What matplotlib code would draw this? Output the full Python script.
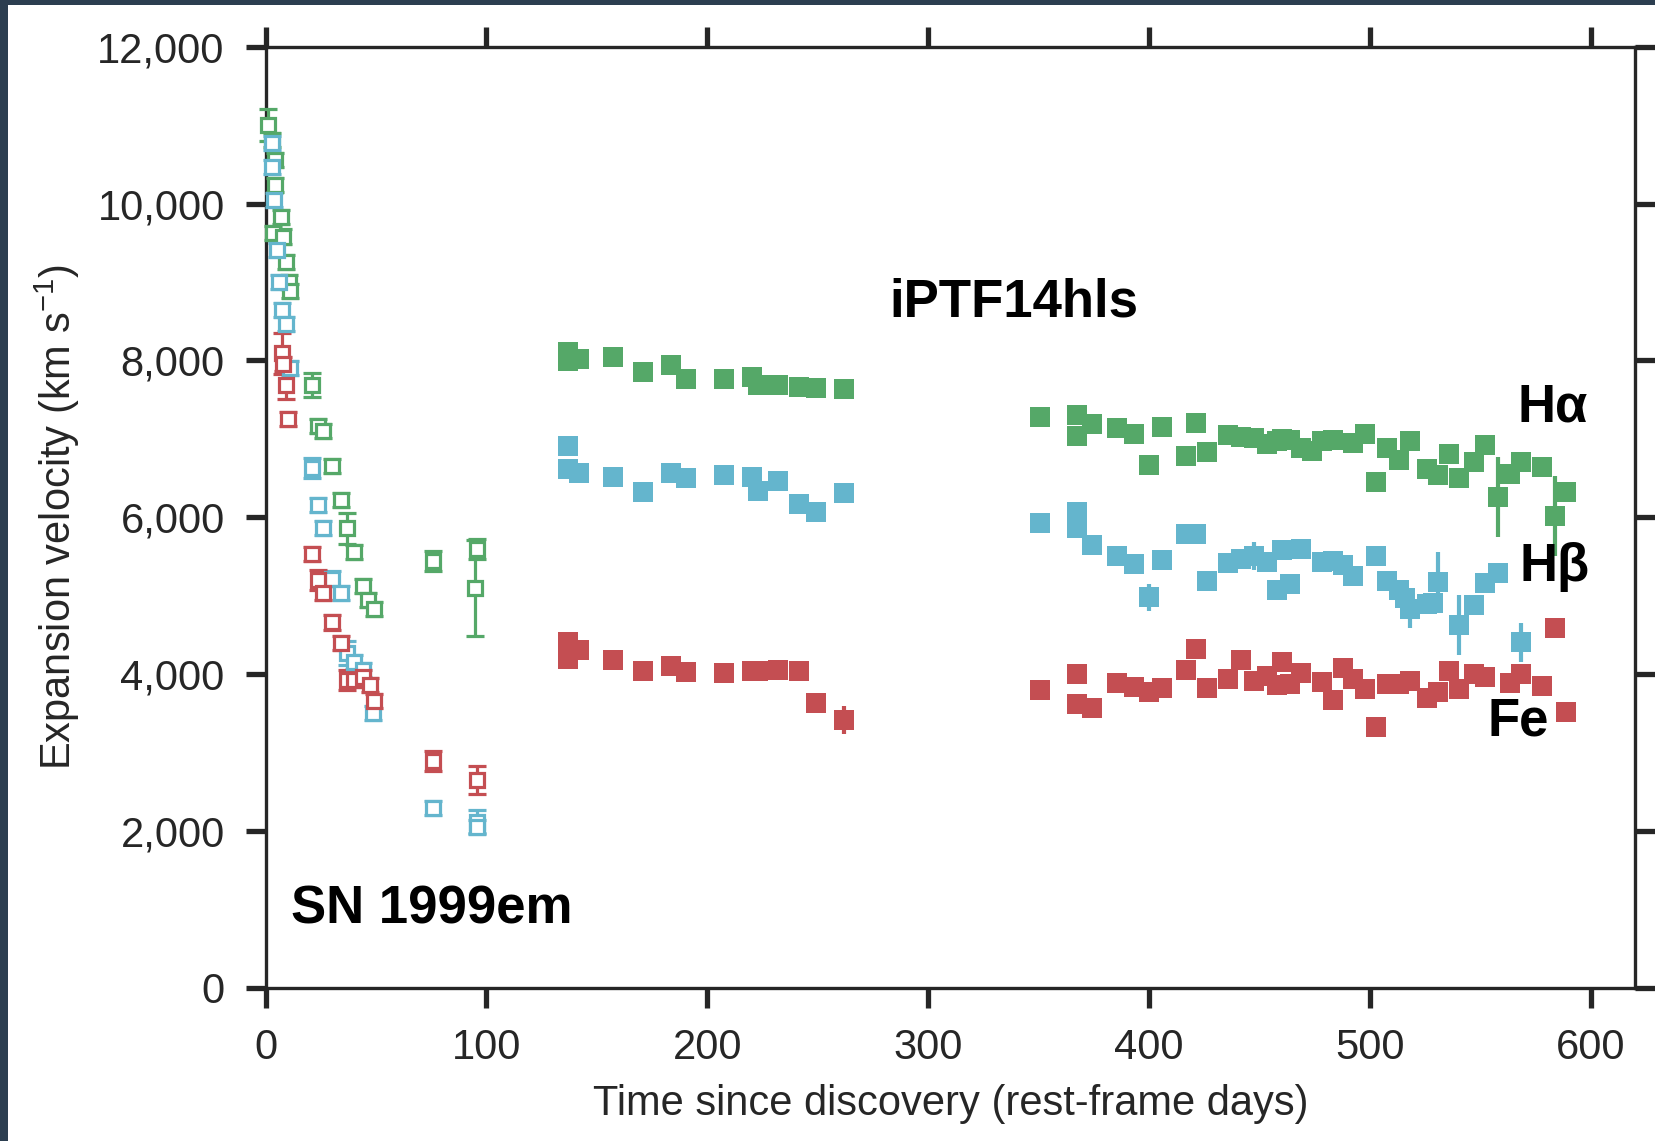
import matplotlib
matplotlib.use("Agg")
import matplotlib.pyplot as plt
import matplotlib.patches as patches
import numpy as np

plt.rcParams['font.family'] = ['Liberation Sans', 'DejaVu Sans']
plt.rcParams['mathtext.fontset'] = 'custom'
plt.rcParams['mathtext.rm'] = 'Liberation Sans'
plt.rcParams['mathtext.it'] = 'Liberation Sans:italic'

GREEN = '#55a868'
BLUE = '#64b5cd'
RED = '#c44e52'
INK = '#262626'

# SN 1999em (open squares): day, velocity, error
sn_ha_day = [1.0, 2.7, 4.3, 4.3, 3.5, 6.8, 8.0, 9.1, 10.7, 11.0, 20.8, 23.9, 26.1, 29.9,
             34.0, 37.0, 40.0, 43.9, 46.5, 49.0, 75.9, 95.8, 95.0]
sn_ha_v = [11000, 10810, 10560, 10240, 9620, 9830, 9580, 9260, 9000, 8880, 7690, 7160, 7100, 6650,
           6220, 5860, 5560, 5120, 4950, 4830, 5440, 5600, 5100]
sn_ha_err = [200, 90, 90, 90, 90, 90, 90, 90, 90, 90, 150, 90, 90, 90,
             90, 200, 90, 90, 90, 90, 130, 130, 610]

sn_hb_day = [2.7, 2.7, 4.0, 5.0, 6.1, 7.3, 9.1, 11.0, 20.8, 23.9, 25.8, 29.9, 34.0, 36.7,
             40.0, 44.2, 48.7, 75.9, 95.5, 95.5]
sn_hb_v = [10770, 10470, 10050, 9410, 9000, 8640, 8470, 7900, 6630, 6160, 5860, 5220, 5040, 4270,
           4160, 4050, 3500, 2300, 2120, 2050]
sn_hb_err = [90, 90, 90, 90, 90, 90, 90, 90, 130, 90, 90, 90, 90, 150,
             90, 90, 90, 90, 150, 90]

sn_fe_day = [7.3, 8.0, 9.1, 10.3, 20.8, 23.9, 25.8, 29.9, 34.0, 37.0, 40.0, 43.9, 47.2, 49.0,
             75.9, 95.8]
sn_fe_v = [8090, 7950, 7690, 7250, 5530, 5200, 5040, 4660, 4400, 3930, 3930, 3970, 3860, 3660,
           2890, 2650]
sn_fe_err = [260, 90, 180, 90, 90, 130, 90, 90, 90, 130, 90, 90, 90, 90,
             130, 180]

# iPTF14hls (filled squares)
ip_ha_day = [137, 137, 142, 157.3, 170.9, 183.6, 190.4, 207.6, 220.2, 222.9, 232, 241.5, 249.2, 261.9,
             350.5, 367.3, 367.3, 374.1, 385.4, 393.1, 399.9, 405.7, 416.6, 421.1, 426.1, 435.6,
             441.5, 447.4, 453.3, 457.8, 460.1, 463.7, 468.7, 473.7, 478.2, 483.1, 492.2, 497.6,
             502.6, 507.6, 513, 518, 525.7, 530.7, 535.6, 540.2, 546.9, 551.9, 557.8, 563.2,
             568.2, 577.7, 583.6, 588.6]
ip_ha_v = [8110, 7990, 8015, 8040, 7850, 7940, 7760, 7760, 7785, 7683, 7683, 7658, 7645, 7632,
           7275, 7301, 7033, 7186, 7135, 7059, 6663, 7148, 6778, 7199, 6829, 7046,
           7020, 7008, 6931, 6969, 6995, 6982, 6880, 6842, 6969, 6982, 6944, 7062,
           6447, 6880, 6727, 6969, 6613, 6536, 6804, 6498, 6702, 6918, 6255, 6549,
           6702, 6638, 6013, 6319]
ip_ha_err = [0] * 48 + [510, 0, 0, 0, 510, 0]

ip_hb_day = [137, 137, 142, 157.3, 170.9, 183.6, 190.4, 207.6, 220.2, 222.9, 232, 241.5, 249.2, 261.9,
             350.5, 367.3, 367.3, 374.1, 385.4, 393.1, 399.9, 405.7, 416.6, 421.1, 426.1, 435.6,
             441.5, 447.4, 453.3, 457.8, 460.1, 463.7, 468.7, 478.2, 483.1, 487.9, 492.4, 502.6,
             507.6, 513, 515.7, 518, 525.7, 528.4, 530.7, 540.2, 546.9, 551.9, 557.8, 568.2]
ip_hb_v = [6906, 6613, 6562, 6511, 6319, 6562, 6498, 6536, 6511, 6332, 6460, 6166, 6065, 6307,
           5924, 6072, 5861, 5644, 5504, 5402, 4981, 5453, 5784, 5784, 5193, 5414,
           5465, 5504, 5427, 5070, 5580, 5147, 5593, 5427, 5440, 5393, 5252, 5507,
           5189, 5074, 4968, 4828, 4892, 4905, 5176, 4624, 4883, 5159, 5287, 4407]
ip_hb_err = [0] * 20 + [175, 0, 0, 0, 0, 0,
                        0, 180, 0, 100, 0, 0, 0, 0, 0, 0, 0, 0,
                        100, 100, 0, 240, 0, 0, 380, 380, 0, 0, 0, 250]

ip_fe_day = [137, 137, 142, 157.3, 170.9, 183.6, 190.4, 207.6, 220.2, 222.9, 232, 241.5, 249.2, 261.9,
             350.5, 367.3, 367.3, 374.1, 385.4, 393.1, 399.9, 405.7, 416.6, 421.1, 426.1, 435.6,
             441.5, 447.4, 453.3, 457.8, 460.1, 463.7, 468.7, 478.2, 483.1, 487.9, 492.4, 497.6,
             502.6, 507.6, 513, 518, 525.7, 530.7, 535.6, 540.2, 546.9, 551.9, 563.2, 568.2,
             577.7, 583.6, 588.6]
ip_fe_v = [4407, 4190, 4305, 4178, 4037, 4101, 4025, 4012, 4037, 4037, 4050, 4037, 3629, 3413,
           3795, 3999, 3617, 3566, 3884, 3834, 3770, 3821, 4050, 4318, 3821, 3935,
           4178, 3910, 3974, 3859, 4152, 3872, 4012, 3897, 3668, 4076, 3935, 3808,
           3323, 3872, 3872, 3910, 3693, 3770, 4037, 3808, 3999, 3961, 3884, 3999,
           3846, 4586, 3515]
ip_fe_err = [0] * 13 + [180] + [0] * 39

x_ticks = [0, 100, 200, 300, 400, 500, 600]
y_ticks = [0, 2000, 4000, 6000, 8000, 10000, 12000]

fig = plt.figure(figsize=(16.55, 11.41), dpi=100)
fig.patch.set_facecolor('#2c3e50')
fig.patches.append(patches.Rectangle((8 / 1655, 0), 1, 1 - 5 / 1141, transform=fig.transFigure,
                                     facecolor='white', edgecolor='none', zorder=-10))
ax = fig.add_axes([0.1605, 0.1341, 0.8274, 0.825])

# SN 1999em open squares with capped error bars
for d, v, e, c in [(sn_ha_day, sn_ha_v, sn_ha_err, GREEN),
                   (sn_hb_day, sn_hb_v, sn_hb_err, BLUE),
                   (sn_fe_day, sn_fe_v, sn_fe_err, RED)]:
    ax.errorbar(d, v, yerr=e, fmt='s', color=c, markersize=10, markerfacecolor='white',
                markeredgecolor=c, markeredgewidth=2.3, elinewidth=2.3, capsize=6.5, capthick=2.5,
                clip_on=False, zorder=3)

# iPTF14hls filled squares
for d, v, e, c in [(ip_ha_day, ip_ha_v, ip_ha_err, GREEN),
                   (ip_hb_day, ip_hb_v, ip_hb_err, BLUE),
                   (ip_fe_day, ip_fe_v, ip_fe_err, RED)]:
    ax.errorbar(d, v, yerr=e, fmt='s', color=c, markersize=13.7, markeredgewidth=0,
                elinewidth=3, capsize=0, zorder=3)

ax.set_xlim(0, 620)
ax.set_ylim(0, 12000)
ax.set_xticks(x_ticks)
ax.set_yticks(y_ticks)
ax.yaxis.set_major_formatter(plt.FuncFormatter(lambda v, pos: f"{int(v):,}"))

for s in ax.spines.values():
    s.set_color(INK)
    s.set_linewidth(2.4)
ax.tick_params(which='both', direction='out', length=14.5, width=3.8, color=INK,
               labelsize=30, labelcolor=INK, top=True, right=True)
ax.tick_params(axis='x', pad=14)
ax.tick_params(axis='y', pad=15)

ax.set_xlabel("Time since discovery (rest-frame days)", fontsize=30, color=INK)
ax.set_ylabel("Expansion velocity (km s$^{-1}$)", fontsize=30, color=INK)
ax.xaxis.set_label_coords(0.5, -0.123)
ax.xaxis.label.set_verticalalignment('center')
ax.yaxis.set_label_coords(-0.152, 0.5)
ax.yaxis.label.set_verticalalignment('center')

lab = dict(fontsize=38, fontweight='bold', color='black', va='baseline', ha='left')
ax.text(282.5, 8554, "iPTF14hls", **lab)
ax.text(11.6, 821, "SN 1999em", **lab)
ax.text(566.6, 7220, "H\u03b1", **lab)
ax.text(567.6, 5193, "H\u03b2", **lab)
ax.text(553.3, 3225, "Fe", **lab)

fig.savefig("out.png", dpi=100, facecolor=fig.get_facecolor())
